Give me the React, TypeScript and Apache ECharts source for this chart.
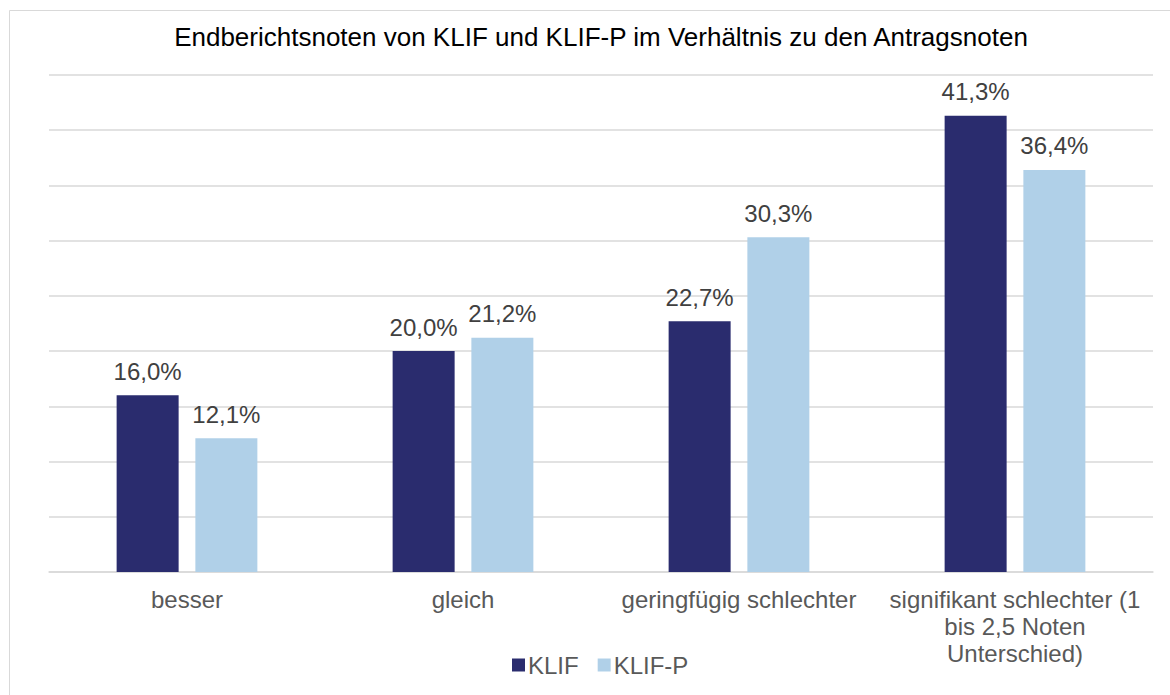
import React, { useEffect, useRef } from "react";
import * as echarts from "echarts";

const categories = [
  "besser",
  "gleich",
  "geringfügig schlechter",
  "signifikant schlechter (1\nbis 2,5 Noten\nUnterschied)",
];
const klif = [16.0, 20.0, 22.7, 41.3];
const klifP = [12.1, 21.2, 30.3, 36.4];
const seriesNames = ["KLIF", "KLIF-P"];
const title = "Endberichtsnoten von KLIF und KLIF-P im Verhältnis zu den Antragsnoten";

const FONT = "'Liberation Sans', Arial, sans-serif";

export default function App() {
  const ref = useRef<HTMLDivElement>(null);
  useEffect(() => {
    if (!ref.current) return;
    const chart = echarts.init(ref.current, null, { renderer: "svg" });
    const fmt = (p: any) => p.value.toFixed(1).replace(".", ",") + "%";
    chart.setOption({
      animation: false,
      backgroundColor: "#ffffff",
      textStyle: { fontFamily: FONT },
      title: {
        text: title,
        left: 596,
        textAlign: "center",
        top: 19,
        textStyle: { fontFamily: FONT, fontSize: 26, fontWeight: "normal", color: "#000000" },
      },
      graphic: [
        {
          type: "rect",
          shape: { x: 9.5, y: 10.5, width: 1200, height: 800 },
          style: { fill: "none", stroke: "#d9d9d9", lineWidth: 1 },
          silent: true,
        },
      ],
      legend: {
        data: seriesNames,
        left: 507,
        top: 648,
        itemWidth: 13,
        itemHeight: 13,
        itemGap: 19,
        icon: "rect",
        textStyle: { fontFamily: FONT, fontSize: 24, color: "#595959", padding: [0, 0, 0, -2] },
      },
      grid: { left: 49, right: 17, top: 75, bottom: 123, containLabel: false },
      xAxis: {
        type: "category",
        data: categories,
        axisLine: { show: true, lineStyle: { color: "#d9d9d9", width: 1.5 } },
        axisTick: { show: false },
        axisLabel: {
          fontFamily: FONT,
          fontSize: 24,
          color: "#595959",
          margin: 14,
          lineHeight: 27,
          interval: 0,
        },
      },
      yAxis: {
        type: "value",
        min: 0,
        max: 45,
        interval: 5,
        axisLabel: { show: false },
        axisLine: { show: false },
        axisTick: { show: false },
        splitLine: { lineStyle: { color: "#d9d9d9", width: 1.5 } },
      },
      series: [
        {
          name: seriesNames[0],
          type: "bar",
          data: klif,
          barWidth: 62,
          barGap: "27%",
          itemStyle: { color: "#2a2c6e" },
          label: {
            show: true,
            position: "top",
            distance: 12,
            formatter: fmt,
            fontFamily: FONT,
            fontSize: 24,
            color: "#404040",
          },
        },
        {
          name: seriesNames[1],
          type: "bar",
          data: klifP,
          barWidth: 62,
          itemStyle: { color: "#b0d0e8" },
          label: {
            show: true,
            position: "top",
            distance: 12,
            formatter: fmt,
            fontFamily: FONT,
            fontSize: 24,
            color: "#404040",
          },
        },
      ],
    });
    return () => chart.dispose();
  }, []);
  return (
    <div
      ref={ref}
      style={{ position: "fixed", left: 0, top: 0, width: 1170, height: 695 }}
    />
  );
}
